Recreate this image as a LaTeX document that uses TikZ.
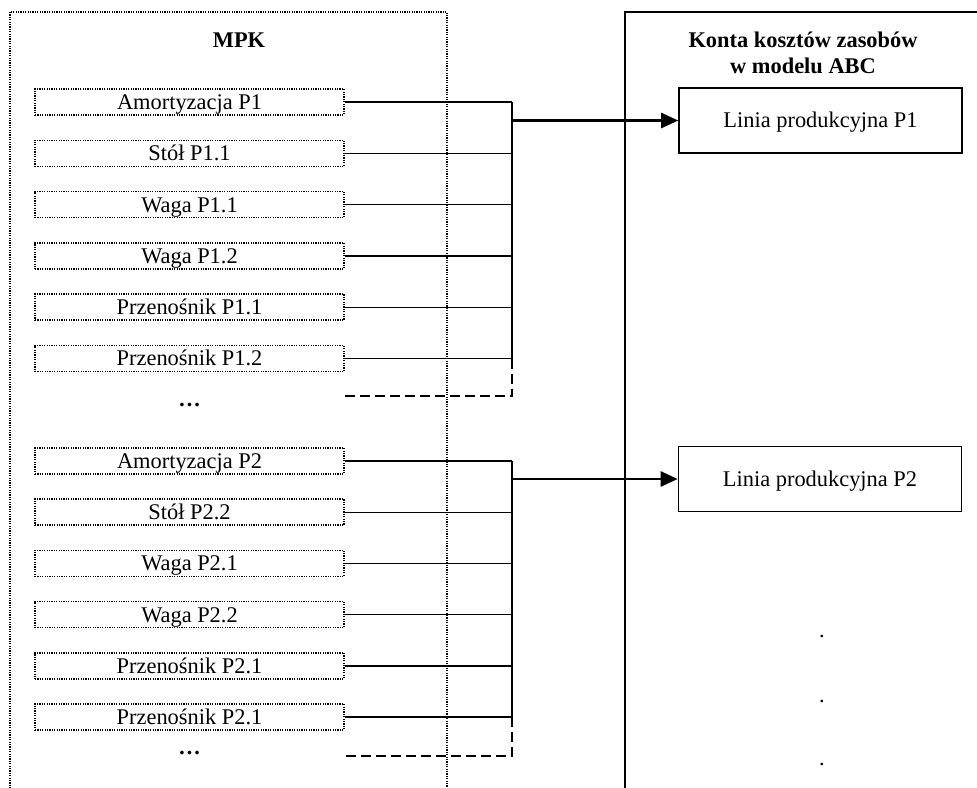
\documentclass[tikz,border=0pt]{standalone}
\usepackage{fontspec}
\setmainfont{Liberation Serif}
\usetikzlibrary{arrows.meta}
\begin{document}
\begin{tikzpicture}[x=0.5pt,y=-0.5pt,
  font=\fontsize{11.2}{12.8}\selectfont,
  costbox/.style={draw, line width=0.75pt, dash pattern=on 0.6pt off 0.6pt,
    minimum width=154.5pt, minimum height=13pt, inner sep=0pt,
    text height=7.4pt, text depth=0pt},
  linebox/.style={draw, line width=0.8pt, minimum width=141.5pt,
    minimum height=32.5pt, inner sep=0pt, text height=7.4pt, text depth=0pt},
  feed/.style={line width=0.7pt},
  pending/.style={line width=0.7pt, dash pattern=on 5pt off 2.5pt},
  flow/.style={line width=1.3pt, -{Triangle[length=8.5pt,width=7.5pt]}},
  heading/.style={font=\fontsize{11.2}{12.8}\selectfont\bfseries,
    inner sep=0pt, anchor=base, align=center},
  more/.style={inner sep=0pt, anchor=base}
]
\useasboundingbox (0,0) rectangle (977,787);
\clip (0,0) rectangle (977,787);

% frames of the two columns
\draw[line width=0.8pt, dash pattern=on 0.6pt off 0.6pt] (10,12) rectangle (447,830);
\draw[line width=0.75pt] (625,12) rectangle (1010,830);

% headings (base anchor sits on the last line)
\node[heading] (mpk) at (239,47) {MPK};
\node[heading] (konta) at (803,73.3) {Konta kosztów zasobów\\w modelu ABC};

% cost centres, line P1
\node[costbox] (a1) at (189.5,102)   {Amortyzacja P1};
\node[costbox] (a2) at (189.5,153.3) {Stół P1.1};
\node[costbox] (a3) at (189.5,204.6) {Waga P1.1};
\node[costbox] (a4) at (189.5,255.9) {Waga P1.2};
\node[costbox] (a5) at (189.5,307.2) {Przenośnik P1.1};
\node[costbox] (a6) at (189.5,358.5) {Przenośnik P1.2};
\node[more, font=\fontsize{11.2}{12.8}\selectfont\bfseries] (d1) at (189.5,406) {…};

% cost centres, line P2
\node[costbox] (b1) at (189.5,461)   {Amortyzacja P2};
\node[costbox] (b2) at (189.5,512.2) {Stół P2.2};
\node[costbox] (b3) at (189.5,563.4) {Waga P2.1};
\node[costbox] (b4) at (189.5,614.6) {Waga P2.2};
\node[costbox] (b5) at (189.5,665.8) {Przenośnik P2.1};
\node[costbox] (b6) at (189.5,717)   {Przenośnik P2.1};
\node[more, font=\fontsize{11.2}{12.8}\selectfont\bfseries] (d2) at (189.5,754) {…};

% resource cost accounts
\node[linebox] (l1) at (820.5,120.5) {Linia produkcyjna P1};
\node[linebox] (l2) at (820,479)     {Linia produkcyjna P2};
\node[more] (r1) at (822,637) {.};
\node[more] (r2) at (822,702) {.};
\node[more] (r3) at (822,765) {.};

% collecting buses
\coordinate (bus1) at (512,120.5);
\coordinate (bus2) at (512,479);
\coordinate (m1) at (343,396);
\coordinate (m2) at (343,756);

\foreach \n in {a1,a2,a3,a4,a5,a6}
  \draw[feed] (\n.east) -- (\n.east -| bus1);
\draw[feed] (a1.east -| bus1) -- (a6.east -| bus1);
\draw[pending] (a6.east -| bus1) -- (m1 -| bus1) -- (m1);
\draw[flow] (bus1) -- (l1.west);

\foreach \n in {b1,b2,b3,b4,b5,b6}
  \draw[feed] (\n.east) -- (\n.east -| bus2);
\draw[feed] (b1.east -| bus2) -- (b6.east -| bus2);
\draw[pending] (b6.east -| bus2) -- (m2 -| bus2) -- (m2);
\draw[flow] (bus2) -- (l2.west);
\end{tikzpicture}
\end{document}
